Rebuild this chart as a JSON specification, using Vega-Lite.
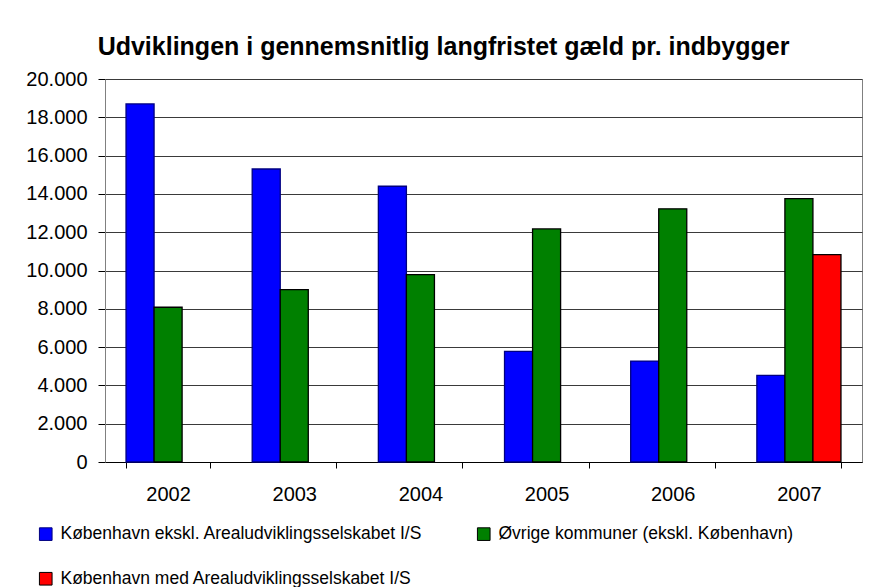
{
  "$schema": "https://vega.github.io/schema/vega-lite/v6.json",
  "width": 757,
  "height": 383,
  "autosize": "none",
  "padding": {"left": 105, "top": 79, "right": 23, "bottom": 125},
  "background": "white",
  "title": {
    "text": "Udviklingen i gennemsnitlig langfristet gæld pr. indbygger",
    "font": "Liberation Sans",
    "fontSize": 25,
    "fontWeight": "bold",
    "color": "#000000",
    "anchor": "middle",
    "dx": -40,
    "baseline": "alphabetic",
    "offset": -11
  },
  "data": {
    "values": [
      {"year": "2002", "series": "København ekskl. Arealudviklingsselskabet I/S", "value": 18700},
      {"year": "2002", "series": "Øvrige kommuner (ekskl. København)", "value": 8080},
      {"year": "2003", "series": "København ekskl. Arealudviklingsselskabet I/S", "value": 15300},
      {"year": "2003", "series": "Øvrige kommuner (ekskl. København)", "value": 9000},
      {"year": "2004", "series": "København ekskl. Arealudviklingsselskabet I/S", "value": 14400},
      {"year": "2004", "series": "Øvrige kommuner (ekskl. København)", "value": 9780},
      {"year": "2005", "series": "København ekskl. Arealudviklingsselskabet I/S", "value": 5780},
      {"year": "2005", "series": "Øvrige kommuner (ekskl. København)", "value": 12170},
      {"year": "2006", "series": "København ekskl. Arealudviklingsselskabet I/S", "value": 5270},
      {"year": "2006", "series": "Øvrige kommuner (ekskl. København)", "value": 13220},
      {"year": "2007", "series": "København ekskl. Arealudviklingsselskabet I/S", "value": 4520},
      {"year": "2007", "series": "Øvrige kommuner (ekskl. København)", "value": 13750},
      {"year": "2007", "series": "København med Arealudviklingsselskabet I/S", "value": 10830}
    ]
  },
  "mark": {"type": "bar", "strokeWidth": 1.3},
  "encoding": {
    "x": {
      "field": "year",
      "type": "nominal",
      "scale": {"paddingInner": 0.3333, "paddingOuter": 0.1667},
      "axis": {
        "title": null,
        "labelAngle": 0,
        "tickBand": "extent",
        "tickSize": 6,
        "tickColor": "#000000",
        "domainColor": "#000000",
        "labelPadding": 16,
        "labelFont": "Liberation Sans",
        "labelFontSize": 20,
        "labelColor": "#000000",
        "grid": false
      }
    },
    "xOffset": {
      "field": "series",
      "type": "nominal",
      "sort": ["København ekskl. Arealudviklingsselskabet I/S", "Øvrige kommuner (ekskl. København)", "København med Arealudviklingsselskabet I/S"]
    },
    "y": {
      "field": "value",
      "type": "quantitative",
      "scale": {"domain": [0, 20000], "nice": false},
      "axis": {
        "title": null,
        "values": [0, 2000, 4000, 6000, 8000, 10000, 12000, 14000, 16000, 18000, 20000],
        "format": ",d",
        "tickSize": 7,
        "tickColor": "#000000",
        "domainColor": "#808080",
        "labelPadding": 11,
        "labelFont": "Liberation Sans",
        "labelFontSize": 20,
        "labelColor": "#000000",
        "grid": true,
        "gridColor": "#3a3a3a",
        "gridOpacity": 1,
        "gridWidth": 1
      }
    },
    "color": {
      "field": "series",
      "type": "nominal",
      "sort": ["København ekskl. Arealudviklingsselskabet I/S", "Øvrige kommuner (ekskl. København)", "København med Arealudviklingsselskabet I/S"],
      "scale": {
        "domain": ["København ekskl. Arealudviklingsselskabet I/S", "Øvrige kommuner (ekskl. København)", "København med Arealudviklingsselskabet I/S"],
        "range": ["#0000FF", "#008000", "#FF0000"]
      },
      "legend": {
        "title": null,
        "orient": "none",
        "legendX": -68,
        "legendY": 446,
        "direction": "horizontal",
        "columns": 2,
        "gridAlign": "all",
        "columnPadding": 52,
        "rowPadding": 26,
        "symbolType": "square",
        "symbolSize": 160,
        "symbolStrokeWidth": 1,
        "labelFont": "Liberation Sans",
        "labelFontSize": 17.5,
        "labelColor": "#000000",
        "labelLimit": 500,
        "labelOffset": 6
      }
    },
    "stroke": {
      "field": "series",
      "type": "nominal",
      "scale": {
        "domain": ["København ekskl. Arealudviklingsselskabet I/S", "Øvrige kommuner (ekskl. København)", "København med Arealudviklingsselskabet I/S"],
        "range": ["#000080", "#000000", "#000000"]
      },
      "legend": null
    }
  },
  "config": {
    "locale": {"number": {"decimal": ",", "thousands": ".", "grouping": [3], "currency": ["", " kr."]}},
    "view": {"stroke": "#808080", "strokeWidth": 1}
  }
}
